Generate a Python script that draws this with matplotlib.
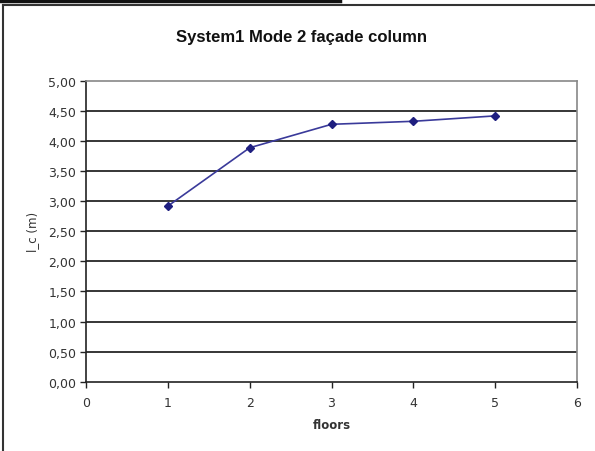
import matplotlib
matplotlib.use("Agg")
import matplotlib.pyplot as plt
from matplotlib.lines import Line2D

floors = [1, 2, 3, 4, 5]
lc_values = [2.92, 3.89, 4.28, 4.33, 4.42]
y_ticks = [0.0, 0.5, 1.0, 1.5, 2.0, 2.5, 3.0, 3.5, 4.0, 4.5, 5.0]
x_ticks = [0, 1, 2, 3, 4, 5, 6]

plt.rcParams['font.family'] = ['DejaVu Sans']

W, H = 595, 452
fig = plt.figure(figsize=(W/100, H/100), dpi=100)
fig.patch.set_facecolor('white')

left, right, top, bottom = 86, 577, 82, 382.7
ax = fig.add_axes([left/W, (H-bottom)/H, (right-left)/W, (bottom-top)/H])

ax.set_xlim(0, 6)
ax.set_ylim(0, 5)
ax.set_xticks(x_ticks)
ax.set_yticks(y_ticks)
ax.set_yticklabels([f"{v:.2f}".replace('.', ',') for v in y_ticks])
ax.set_xticklabels([str(v) for v in x_ticks])

for v in y_ticks[1:-1]:
    ax.axhline(v, color='black', lw=1.1, zorder=1)

ax.plot(floors, lc_values, color='#3a3a9a', lw=1.2, marker='D', markersize=4.5,
        markerfacecolor='#1f1f80', markeredgecolor='#1f1f80', zorder=3)

for s in ['top', 'right']:
    ax.spines[s].set_color('#888888')
    ax.spines[s].set_linewidth(1.2)
for s in ['left', 'bottom']:
    ax.spines[s].set_color('#222222')
    ax.spines[s].set_linewidth(1.2)

ax.tick_params(axis='both', direction='out', length=4, width=1, color='#222222',
               labelsize=9, labelcolor='#333333')
ax.tick_params(axis='y', pad=3)
ax.tick_params(axis='x', pad=6)

ax.set_xlabel('floors', fontsize=8.5, fontweight='bold', color='#333333', labelpad=7)
ax.set_ylabel('l_c (m)', fontsize=8.5, color='#333333', labelpad=7)

fig.text(301.5/W, 1 - 42/H, 'System1 Mode 2 façade column', ha='center', va='baseline',
         fontsize=12, fontweight='bold', color='#111111', family='Liberation Sans')

# outer frame
fig.add_artist(Line2D([3/W, 3/W], [0, 1 - 6/H], transform=fig.transFigure, color='#333333', lw=1.5))
fig.add_artist(Line2D([3/W, 1], [1 - 6/H, 1 - 6/H], transform=fig.transFigure, color='#333333', lw=1.5))
fig.add_artist(Line2D([0, 340/W], [1 - 1.5/H, 1 - 1.5/H], transform=fig.transFigure, color='#111111', lw=2.5))

fig.savefig('out.png', dpi=100)
